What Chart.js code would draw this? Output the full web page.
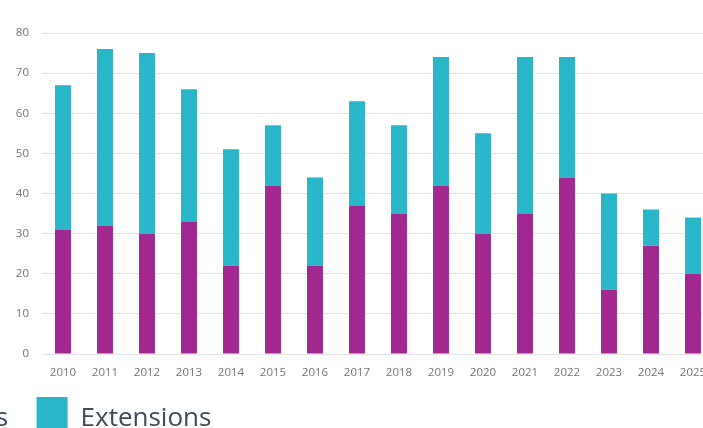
<!DOCTYPE html>
<html>
<head>
<meta charset="utf-8">
<script src="https://cdn.jsdelivr.net/npm/chart.js@4"></script>
<style>
  html, body { margin: 0; padding: 0; background: #fff; overflow: hidden; }
  #wrap { position: relative; width: 703px; height: 428px; overflow: hidden; }
  #box { position: absolute; left: -199px; top: 0; width: 923px; height: 451px; }
</style>
</head>
<body>
<div id="wrap"><div id="box"><canvas id="c"></canvas></div></div>
<script>
const years = ["2010","2011","2012","2013","2014","2015","2016","2017","2018","2019","2020","2021","2022","2023","2024","2025"];
const applications = [31, 32, 30, 33, 22, 42, 22, 37, 35, 42, 30, 35, 44, 16, 27, 20];
const extensions = [36, 44, 45, 33, 29, 15, 22, 26, 22, 32, 25, 39, 30, 24, 9, 14];
const yTicks = [0, 10, 20, 30, 40, 50, 60, 70, 80];

const tickFont = { family: "Open Sans", size: 11.5 };

new Chart(document.getElementById("c"), {
  type: "bar",
  data: {
    labels: years,
    datasets: [
      // trailing spaces only widen the gap before the next legend item
      { label: "Applications  ", data: applications, backgroundColor: "#a0288f" },
      { label: "Extensions", data: extensions, backgroundColor: "#29b6c9" }
    ]
  },
  options: {
    responsive: true,
    maintainAspectRatio: false,
    animation: false,
    datasets: { bar: { categoryPercentage: 1, barPercentage: 0.38 } },
    layout: { padding: { top: 33, right: 10, bottom: 0, left: 0 } },
    plugins: {
      tooltip: { enabled: false },
      legend: {
        position: "bottom",
        align: "start",
        labels: {
          boxWidth: 31,
          boxHeight: 44,
          padding: 15,
          color: "#3d4c58",
          font: { family: "Open Sans", size: 26 }
        }
      }
    },
    scales: {
      x: {
        stacked: true,
        grid: { display: false, drawTicks: false },
        border: { display: false },
        ticks: { color: "#767676", font: tickFont, padding: 12, maxRotation: 0, autoSkip: false },
        afterFit(scale) { scale.height = 28; }
      },
      y: {
        stacked: true,
        min: 0,
        max: 80,
        afterBuildTicks(scale) { scale.ticks = yTicks.map(v => ({ value: v })); },
        grid: { color: "#e3e3e3", drawTicks: false },
        border: { display: false },
        ticks: { color: "#767676", font: tickFont, padding: 13 },
        afterFit(scale) { scale.width = 241; }
      }
    }
  }
});
</script>
</body>
</html>
